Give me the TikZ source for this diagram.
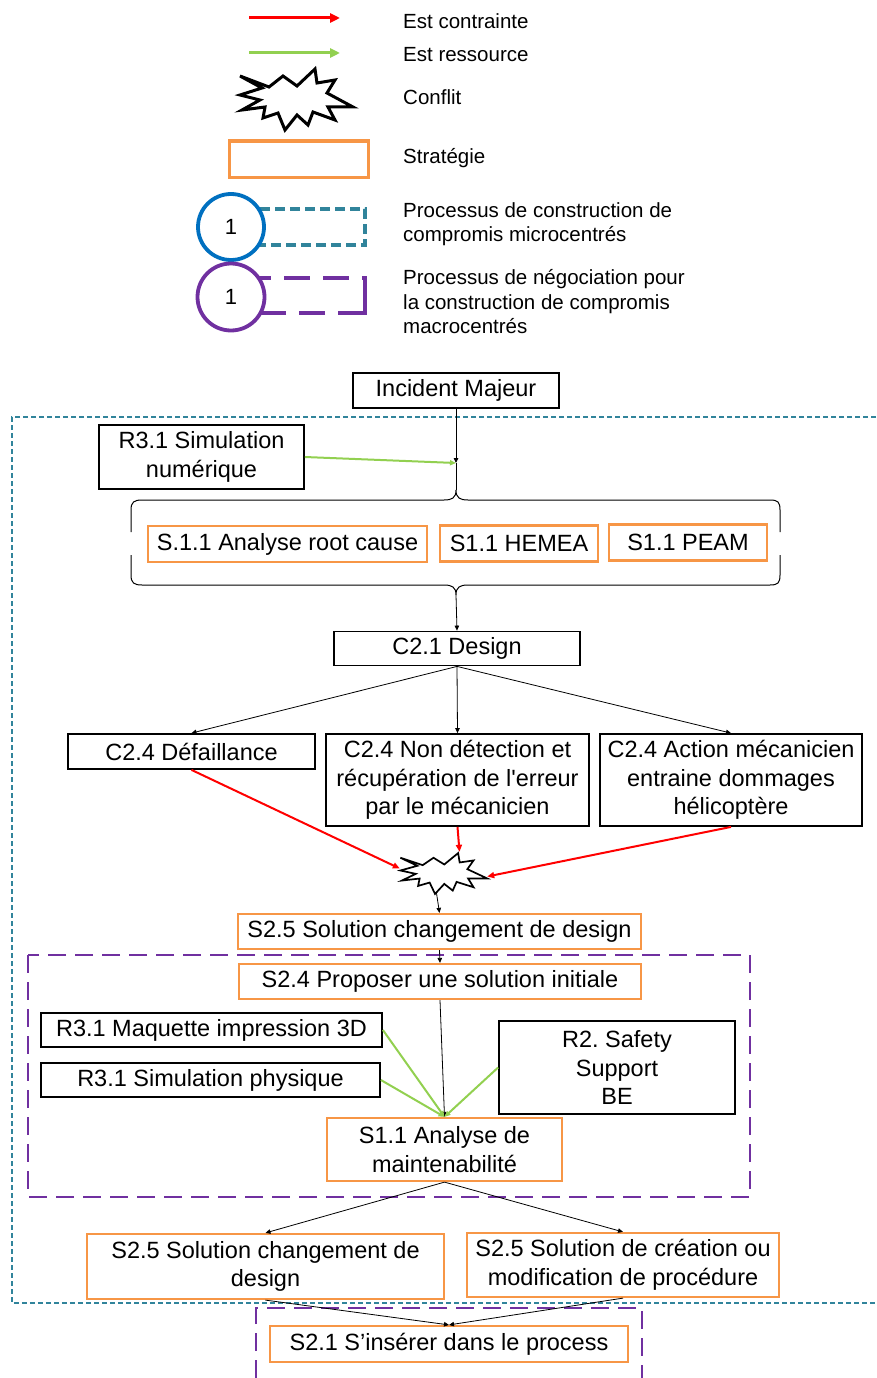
\documentclass[tikz,border=0pt]{standalone}
\usepackage{fontspec}
\setmainfont{Liberation Sans}
\newfontfamily\apfont{Liberation Sans}[Ligatures=ResetAll]
\usetikzlibrary{arrows.meta,calc}
\definecolor{cred}{RGB}{255,0,0}
\definecolor{cgreen}{RGB}{146,208,80}
\definecolor{corange}{RGB}{247,150,70}
\definecolor{cteal}{RGB}{49,132,155}
\definecolor{cblue}{RGB}{0,112,192}
\definecolor{cpurple}{RGB}{112,48,160}
\begin{document}
\frenchspacing
\begin{tikzpicture}[x=1pt,y=-1pt,
  bx/.style={draw=black, line width=1.8pt, inner sep=2pt, align=center,
    font=\fontsize{23.5}{28.5}\selectfont},
  st/.style={bx, draw=corange, line width=2.2pt},
  lg/.style={anchor=west, inner sep=0pt, align=left,
    font=\fontsize{20.5}{24.5}\selectfont},
  conn/.style={draw=black, line width=0.8pt, -{Triangle[length=5pt,width=4.5pt]}},
  cons/.style={draw=cred, line width=2pt, -{Triangle[length=7pt,width=6pt]}},
  res/.style={draw=cgreen, line width=2pt, -{Triangle[length=6pt,width=5pt]}},
  starpic/.pic={
    \draw[line width=#1, fill=white, line join=miter]
      (-56,-22) -- (-27,-11) -- (-13,-22) -- (1,-12) -- (19,-29) -- (21,-15)
      -- (39,-18) -- (31,-5) -- (57,9) -- (32,9) -- (39,22) -- (17,14)
      -- (12,27) -- (1,17) -- (-11,32) -- (-18,15) -- (-33,20) -- (-31,9)
      -- (-54,12) -- (-36,2) -- (-56,-3) -- (-34,-10) -- cycle;
  },
  starpic/.default=2.2pt
]
\useasboundingbox (0,0) rectangle (876,1378);

% ---------- Legend ----------
\coordinate (la1) at (249,18);  \coordinate (la2) at (340,18);
\coordinate (lb1) at (249,53);  \coordinate (lb2) at (340,53);
\draw[draw=cred, line width=3pt, -{Triangle[length=10pt,width=9pt]}] (la1) -- (la2);
\draw[draw=cgreen, line width=3pt, -{Triangle[length=10pt,width=9pt]}] (lb1) -- (lb2);
\node[lg] (t1) at (403,21) {Est contrainte};
\node[lg] (t2) at (403,55) {Est ressource};
\pic at (296,98) {starpic=3pt};
\node[lg] (t3) at (403,97) {Conflit};
\node[draw=corange, line width=3pt, minimum width=139pt, minimum height=36pt, inner sep=0pt] (lstrat) at (298.5,159) {};
\node[lg] (t4) at (403,158) {Stratégie};
\draw[cteal, line width=3.5pt, dash pattern=on 10pt off 5pt] (245,209) -- (365,209) -- (365,245) -- (245,245);
\node[circle, draw=cblue, fill=white, line width=3.8pt, minimum size=66pt, inner sep=0pt,
  font=\fontsize{22}{24}\selectfont] (lc1) at (231,227) {1};
\node[lg] (t5) at (403,224) {Processus de construction de\\compromis microcentrés};
\draw[cpurple, line width=3.5pt, dash pattern=on 26pt off 13pt] (245,278) -- (365,278) -- (365,313) -- (245,313);
\draw[cpurple, line width=3.5pt] (365,290) -- (365,313) -- (345,313);
\node[circle, draw=cpurple, fill=white, line width=3.8pt, minimum size=67pt, inner sep=0pt,
  font=\fontsize{22}{24}\selectfont] (lc2) at (231,297) {1};
\node[lg] (t6) at (403,302) {Processus de négociation pour\\la construction de compromis\\macrocentrés};

% ---------- Containers ----------
\draw[cteal, line width=2.5pt, dash pattern=on 5pt off 3pt] (876,417) -- (12,417) -- (12,1303) -- (876,1303);
\draw[cpurple, line width=2.8pt, dash pattern=on 18pt off 9pt] (28,955) rectangle (750,1197);
\draw[cpurple, line width=2.8pt, dash pattern=on 18pt off 9pt] (256,1378) -- (256,1308) -- (642,1308) -- (642,1378);

% ---------- Nodes ----------
\node[bx, minimum width=206pt, minimum height=35pt] (im) at (456,390.5) {Incident Majeur};
\node[bx, minimum width=205pt, minimum height=64pt] (r31) at (201.5,457) {R3.1 Simulation\\numérique};
\node[st, minimum width=279pt, minimum height=36pt] (s1) at (287.5,544) {S.1.1 Analyse root cause};
\node[st, minimum width=158pt, minimum height=36pt] (s2) at (519,543.5) {S1.1 HEMEA};
\node[st, minimum width=158pt, minimum height=36pt] (s3) at (688,542.5) {S1.1 PEAM};
\node[bx, minimum width=246pt, minimum height=34pt] (c21) at (457,648.5) {C2.1 Design};
\node[bx, minimum width=247pt, minimum height=35pt] (c24a) at (191.5,751.5) {C2.4 Défaillance};
\node[bx, minimum width=263pt, minimum height=92pt] (c24b) at (457.5,780) {C2.4 Non détection et\\récupération de {\apfont l'erreur}\\par le mécanicien};
\node[bx, minimum width=262pt, minimum height=92pt] (c24c) at (731,780) {C2.4 Action mécanicien\\entraine dommages\\hélicoptère};
\node[minimum width=87pt, minimum height=41pt, inner sep=0pt] (conf) at (443.5,872.5) {};
\pic[xscale=0.77, yscale=0.67] at (conf.center) {starpic=1.7pt};
\node[st, minimum width=403pt, minimum height=35pt] (s25) at (439.5,931.5) {S2.5 Solution changement de design};
\node[st, minimum width=402pt, minimum height=35pt] (s24) at (440,981.5) {S2.4 Proposer une solution initiale};
\node[bx, minimum width=341pt, minimum height=34pt] (r31m) at (211.5,1030) {R3.1 Maquette impression 3D};
\node[bx, minimum width=339pt, minimum height=34pt] (r31p) at (210.5,1080) {R3.1 Simulation physique};
\node[bx, minimum width=236pt, minimum height=93pt] (r2) at (617,1067.5) {R2. Safety\\Support\\BE};
\node[st, minimum width=235pt, minimum height=63pt] (s11) at (444.5,1149.5) {S1.1 Analyse de\\maintenabilité};
\node[st, minimum width=357pt, minimum height=65pt] (s25a) at (265.5,1266.5) {S2.5 Solution changement de\\design};
\node[st, minimum width=312pt, minimum height=64pt] (s25b) at (623,1265) {S2.5 Solution de création ou\\modification de procédure};
\node[st, minimum width=358pt, minimum height=36pt] (s21) at (449,1344) {S2.1 S’insérer dans le process};

% ---------- Braces ----------
\coordinate (j1) at (456,463);
\coordinate (bt) at (456,490);
\coordinate (bb) at (456,595);
\draw[line width=1pt] (131,532) -- (131,510) .. controls (131,502) and (134,500) .. (142,500)
  -- (444,500) .. controls (452,500) and (456,498) .. (bt)
  .. controls (456,498) and (460,500) .. (468,500) -- (770,500)
  .. controls (778,500) and (780,502) .. (780,510) -- (780,532);
\draw[line width=1pt] (131,555) -- (131,575) .. controls (131,583) and (134,585) .. (142,585)
  -- (444,585) .. controls (452,585) and (456,587) .. (bb)
  .. controls (456,587) and (460,585) .. (468,585) -- (770,585)
  .. controls (778,585) and (780,583) .. (780,575) -- (780,555);

% ---------- Connectors ----------
\draw[conn] (im.south) -- (j1);
\draw[line width=0.8pt] (j1) -- (bt);
\draw[res] (r31.east) -- (j1);
\draw[conn] (bb) -- (c21.north);
\draw[conn] (c21.south) -- (c24a.north);
\draw[conn] (c21.south) -- (c24b.north);
\draw[conn] (c21.south) -- (c24c.north);
\draw[cons] (c24a.south) -- ([yshift=4pt]conf.west);
\draw[cons] (c24b.south) -- ([xshift=16pt]conf.north);
\draw[cons] (c24c.south) -- ([yshift=-4pt]conf.east);
\draw[conn] ([xshift=-7pt]conf.south) -- (s25.north);
\draw[conn] (s25.south) -- (s24.north);
\draw[conn] (s24.south) -- (s11.north);
\draw[res] (r31m.east) -- (s11.north);
\draw[res] (r31p.east) -- (s11.north);
\draw[res] (r2.west) -- (s11.north);
\draw[conn] (s11.south) -- (s25a.north);
\draw[conn] (s11.south) -- (s25b.north);
\draw[conn] (s25a.south) -- (s21.north);
\draw[conn] (s25b.south) -- (s21.north);
\end{tikzpicture}
\end{document}
